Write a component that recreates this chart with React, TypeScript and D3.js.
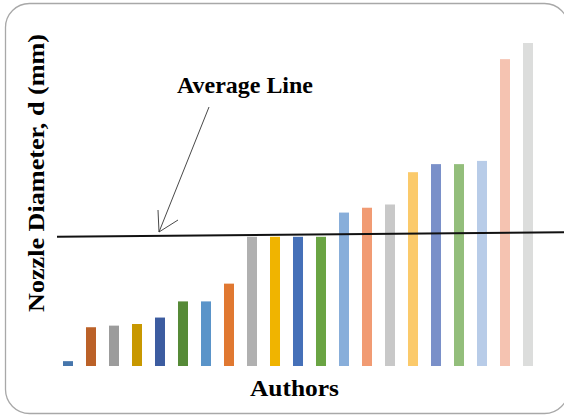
import React from "react";
import * as d3 from "d3";

// Nozzle diameters (mm) reported by each author, sorted ascending
const authors = [
  "A1", "A2", "A3", "A4", "A5", "A6", "A7", "A8", "A9", "A10", "A11",
  "A12", "A13", "A14", "A15", "A16", "A17", "A18", "A19", "A20", "A21",
];
const diameters = [
  0.03, 0.24, 0.25, 0.26, 0.3, 0.4, 0.4, 0.51, 0.8, 0.8, 0.8,
  0.8, 0.95, 0.98, 1.0, 1.2, 1.25, 1.25, 1.27, 1.9, 2.0,
];
const barColors = [
  "#4676AC", "#BB6128", "#9C9C9C", "#C89800", "#3C5CA0", "#568A37", "#5A94C9",
  "#E07831", "#B0B0B0", "#F0B400", "#4570B8", "#6AA443", "#88AEDA", "#F19B73",
  "#C8C8C8", "#FBCA6B", "#7A90C9", "#93BE7B", "#B8CCE8", "#F5C3B1", "#DCDDDC",
];
// Average line end values (left, right)
const averageLine = [0.8, 0.828];

const W = 564;
const H = 416;

export default function App() {
  const x = d3
    .scaleBand<string>()
    .domain(authors)
    .range([50, 546])
    .padding(0.565);
  const y = d3.scaleLinear().domain([0, 2.0]).range([366, 43]);

  const lineX0 = 57;
  const lineX1 = 566;
  const tip = { x: 159, y: 232 };

  return (
    <svg
      width={W}
      height={H}
      style={{ position: "absolute", left: 0, top: 0 }}
      fontFamily="'Liberation Serif', 'Times New Roman', serif"
    >
      <rect x={0} y={0} width={W} height={H} fill="#fff" />
      <rect
        x={5.5}
        y={3.5}
        width={563}
        height={410}
        rx={24}
        fill="#fff"
        stroke="#a8a8a8"
        strokeWidth={1.3}
      />

      {/* bars */}
      {diameters.map((d, i) => (
        <rect
          key={authors[i]}
          x={x(authors[i])}
          y={y(d)}
          width={x.bandwidth()}
          height={y(0) - y(d)}
          fill={barColors[i]}
        />
      ))}

      {/* average line */}
      <line
        x1={lineX0}
        y1={y(averageLine[0])}
        x2={lineX1}
        y2={y(averageLine[1])}
        stroke="#111"
        strokeWidth={2}
      />

      {/* annotation arrow */}
      <g stroke="#333" strokeWidth={0.9} fill="none">
        <line x1={209} y1={107} x2={tip.x} y2={tip.y} />
        <line x1={tip.x} y1={tip.y} x2={158} y2={210} />
        <line x1={tip.x} y1={tip.y} x2={178} y2={220} />
      </g>
      <text
        x={177}
        y={93}
        fontSize={22.5}
        fontWeight="bold"
        textLength={136}
        lengthAdjust="spacingAndGlyphs"
      >
        Average Line
      </text>

      {/* axis titles */}
      <text
        x={250}
        y={396}
        fontSize={23}
        fontWeight="bold"
        textLength={89}
        lengthAdjust="spacingAndGlyphs"
      >
        Authors
      </text>
      <text
        transform="translate(44,312) rotate(-90)"
        x={0}
        y={0}
        fontSize={24}
        fontWeight="bold"
        textLength={278}
        lengthAdjust="spacingAndGlyphs"
      >
        Nozzle Diameter, d (mm)
      </text>
    </svg>
  );
}
